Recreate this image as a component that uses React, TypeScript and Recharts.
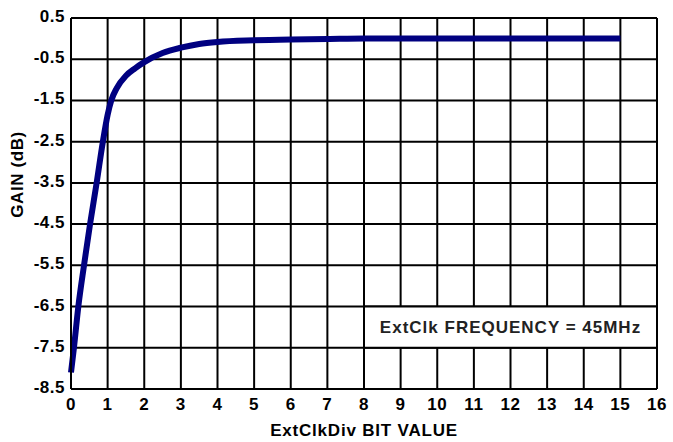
import React from 'react';
import {
    LineChart,
    Line,
    XAxis,
    YAxis,
    CartesianGrid,
    ReferenceArea,
    Label,
} from 'recharts';

const bitValues = [0, 0.08, 0.2, 0.355, 0.52, 0.7, 0.87, 1, 1.1, 1.25, 1.5, 1.75, 2, 2.5, 3, 3.5, 4, 5, 6, 7, 8, 10, 12, 15];
const gainDb = [-8.1, -7.5, -6.5, -5.5, -4.5, -3.5, -2.5, -1.85, -1.5, -1.2, -0.9, -0.72, -0.57, -0.35, -0.22, -0.13, -0.08, -0.04, -0.02, -0.01, 0, 0, 0, 0];

const xTicks = [0, 1, 2, 3, 4, 5, 6, 7, 8, 9, 10, 11, 12, 13, 14, 15, 16];
const yTicks = [0.5, -0.5, -1.5, -2.5, -3.5, -4.5, -5.5, -6.5, -7.5, -8.5];

const noteText = 'ExtClk FREQUENCY = 45MHz';
const noteRange = { x1: 8, x2: 16, y1: -7.5, y2: -6.5 };

const data = bitValues.map((x, i) => ({ x, gain: gainDb[i] }));

const FONT = '"Liberation Sans", Arial, sans-serif';

const YTitle = ({ viewBox }: any) => {
    const cx = 17;
    const cy = viewBox.y + viewBox.height / 2 - 29;
    return (
        <text
            x={cx}
            y={cy}
            transform={`rotate(-90, ${cx}, ${cy})`}
            textAnchor="middle"
            dominantBaseline="central"
            fontFamily={FONT}
            fontWeight="bold"
            fontSize={17}
            letterSpacing={0.6}
            fill="#000"
        >
            GAIN (dB)
        </text>
    );
};

const App: React.FC = () => {
    return (
        <div style={{ position: 'absolute', left: 0, top: 0, background: '#fff' }}>
            <LineChart
                width={673}
                height={442}
                data={data}
                margin={{ top: 18, right: 16, left: 0, bottom: 0 }}
                style={{ fontFamily: FONT }}
            >
                <CartesianGrid stroke="#000" strokeWidth={2} vertical horizontal />
                <XAxis
                    dataKey="x"
                    type="number"
                    domain={[0, 16]}
                    ticks={xTicks}
                    interval={0}
                    axisLine={{ stroke: '#000', strokeWidth: 2 }}
                    tickLine={false}
                    tickMargin={3}
                    height={53}
                    tick={{ fill: '#000', fontSize: 17, fontWeight: 'bold', letterSpacing: 0.6 }}
                >
                    <Label
                        value="ExtClkDiv BIT VALUE"
                        position="insideBottom"
                        offset={6}
                        style={{ fill: '#000', fontSize: 17, fontWeight: 'bold', letterSpacing: 0.8 }}
                    />
                </XAxis>
                <YAxis
                    type="number"
                    domain={[-8.5, 0.5]}
                    ticks={yTicks}
                    interval={0}
                    width={71}
                    axisLine={{ stroke: '#000', strokeWidth: 2 }}
                    tickLine={false}
                    tickMargin={0}
                    tick={{ fill: '#000', fontSize: 17, fontWeight: 'bold', letterSpacing: 0.5, dy: -2 }}
                >
                    <Label content={<YTitle />} />
                </YAxis>
                <ReferenceArea
                    {...noteRange}
                    fill="#fff"
                    fillOpacity={1}
                    stroke="#000"
                    strokeWidth={2}
                    ifOverflow="visible"
                >
                    <Label
                        value={noteText}
                        position="center"
                        style={{ fill: '#222', fontSize: 17, fontWeight: 'bold', letterSpacing: 1 }}
                    />
                </ReferenceArea>
                <Line
                    type="monotone"
                    dataKey="gain"
                    stroke="#000080"
                    strokeWidth={6}
                    dot={false}
                    activeDot={false}
                    isAnimationActive={false}
                />
            </LineChart>
        </div>
    );
};

export default App;
